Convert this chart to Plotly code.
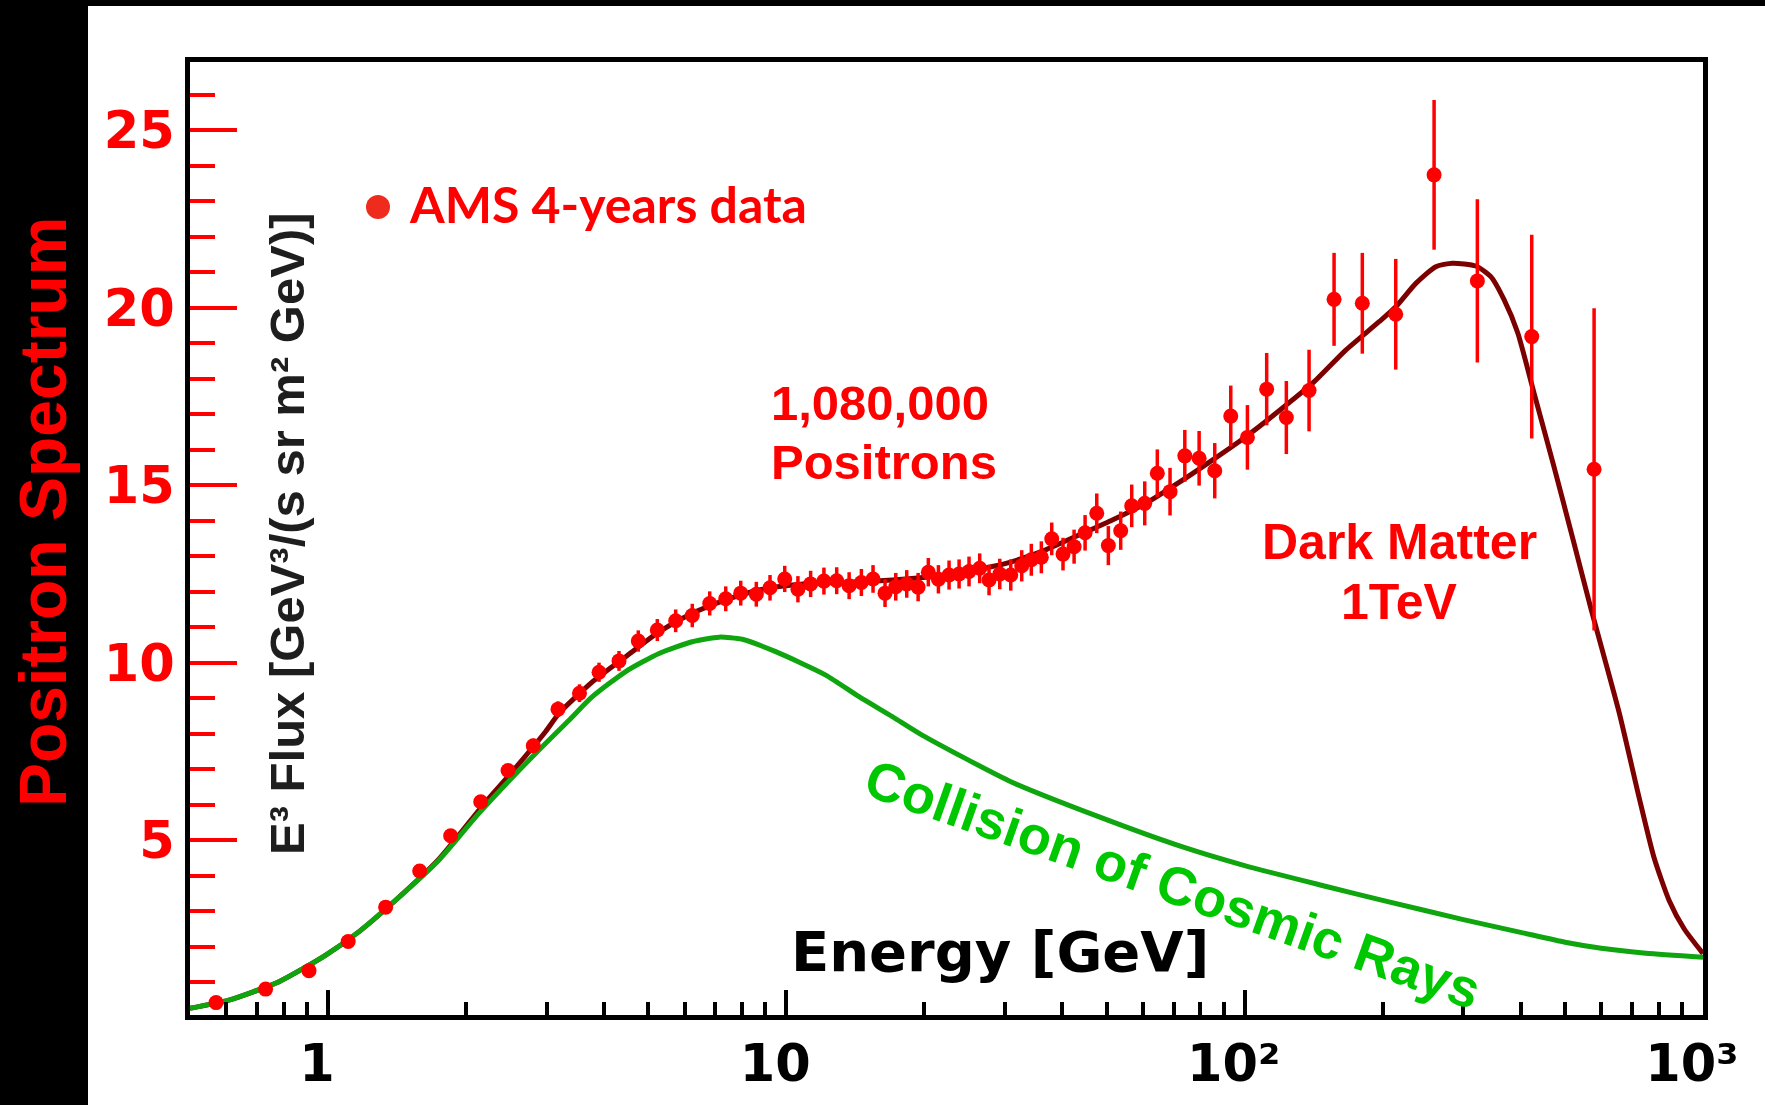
import plotly.graph_objects as go

# ---------------------------------------------------------------------------
# AMS positron flux, E^3-weighted  [GeV^3 / (s sr m^2 GeV)]
# ---------------------------------------------------------------------------
energy = [0.570, 0.731, 0.909, 1.107, 1.336, 1.585, 1.852, 2.154, 2.471, 2.805,
          3.176, 3.538, 3.903, 4.315, 4.754, 5.231, 5.736, 6.235, 6.806, 7.376,
          7.953, 8.601, 9.214, 9.920, 10.60, 11.30, 12.08, 12.88, 13.71, 14.58,
          15.46, 16.42, 17.33, 18.31, 19.39, 20.41, 21.47, 22.65, 23.82, 25.04,
          26.42, 27.69, 29.22, 30.88, 32.63, 34.24, 36.01, 37.94, 40.15, 42.45,
          44.86, 47.57, 50.42, 53.65, 56.70, 60.53, 64.48, 68.74, 74.03, 79.55,
          86.04, 93.26, 101.4, 111.7, 123.3, 138.2, 156.7, 180.6, 213.6, 259.0,
          321.9, 423.0, 578.6]
flux = [0.42, 0.80, 1.32, 2.14, 3.11, 4.13, 5.12, 6.08, 6.96, 7.66,
        8.69, 9.14, 9.73, 10.05, 10.61, 10.92, 11.18, 11.33, 11.67, 11.80,
        11.96, 11.93, 12.11, 12.36, 12.07, 12.22, 12.30, 12.31, 12.17, 12.26,
        12.36, 11.96, 12.14, 12.22, 12.13, 12.55, 12.35, 12.47, 12.50, 12.57,
        12.66, 12.33, 12.50, 12.47, 12.73, 12.90, 12.97, 13.49, 13.06, 13.27,
        13.66, 14.21, 13.30, 13.72, 14.42, 14.49, 15.34, 14.82, 15.83, 15.76,
        15.41, 16.95, 16.35, 17.71, 16.91, 17.67, 20.24, 20.13, 19.82, 23.75,
        20.76, 19.19, 15.45]
flux_err = [0.08, 0.08, 0.09, 0.10, 0.11, 0.12, 0.14, 0.16, 0.18, 0.20,
            0.22, 0.25, 0.27, 0.28, 0.30, 0.31, 0.32, 0.33, 0.34, 0.35,
            0.35, 0.35, 0.36, 0.37, 0.37, 0.37, 0.38, 0.38, 0.38, 0.38,
            0.39, 0.39, 0.39, 0.39, 0.40, 0.40, 0.40, 0.41, 0.41, 0.42,
            0.42, 0.43, 0.43, 0.44, 0.44, 0.45, 0.45, 0.46, 0.46, 0.48,
            0.50, 0.56, 0.55, 0.54, 0.60, 0.62, 0.67, 0.67, 0.73, 0.77,
            0.78, 0.86, 0.91, 1.02, 1.03, 1.15, 1.31, 1.42, 1.56, 2.11,
            2.30, 2.87, 4.54]

# Model: cosmic-ray secondaries + 1 TeV dark matter contribution
model_energy = [0.50, 0.608, 0.782, 0.989, 1.169, 1.381, 1.747, 2.209, 2.524, 2.985,
                3.192, 3.774, 4.462, 5.276, 6.235, 7.376, 8.717, 10.31, 12.19, 14.41,
                17.03, 20.15, 23.82, 28.15, 31.12, 36.81, 43.52, 51.44, 60.84, 71.92,
                85.02, 100.6, 118.9, 140.5, 166.2, 196.5, 213.7, 236.3, 261.2, 284.0,
                319.4, 344.4, 368.1, 394.2, 428.1, 473.1, 520.8, 568.0, 656.1, 725.4,
                782.1, 843.5, 909.5, 1000.0]
model_flux = [0.26, 0.49, 1.01, 1.76, 2.42, 3.22, 4.47, 6.08, 6.93, 8.06,
              8.57, 9.46, 10.17, 10.87, 11.39, 11.77, 12.05, 12.19, 12.25, 12.28,
              12.33, 12.41, 12.52, 12.71, 12.85, 13.18, 13.60, 14.02, 14.49, 15.08,
              15.71, 16.37, 17.10, 17.87, 18.81, 19.61, 20.03, 20.69, 21.16, 21.26,
              21.18, 20.88, 20.23, 19.30, 17.59, 15.52, 13.46, 11.58, 8.60, 6.20,
              4.50, 3.30, 2.50, 1.80]

# Secondary positrons from collisions of cosmic rays with the interstellar gas
collision_energy = [0.50, 0.608, 0.782, 0.989, 1.169, 1.381, 1.747, 2.136, 2.840, 3.357,
                    3.774, 4.462, 5.276, 6.235, 7.133, 8.017, 9.482, 12.19, 14.41, 17.03,
                    19.78, 31.08, 47.52, 72.65, 100.0, 150.0, 200.0, 300.0, 400.0, 500.0,
                    600.0, 750.0, 1000.0]
collision_flux = [0.26, 0.49, 1.01, 1.76, 2.42, 3.22, 4.44, 5.76, 7.45, 8.38,
                  9.04, 9.75, 10.26, 10.59, 10.72, 10.66, 10.31, 9.65, 9.04, 8.48,
                  7.96, 6.63, 5.68, 4.82, 4.28, 3.70, 3.30, 2.76, 2.40, 2.12,
                  1.95, 1.81, 1.70]

# Axis ticks
x_tick_values = [1, 10, 100, 1000]
x_tick_text = ["1", "10", "10²", "10³"]
x_minor_values = [0.6, 0.7, 0.8, 0.9,
                  2, 3, 4, 5, 6, 7, 8, 9,
                  20, 30, 40, 50, 60, 70, 80, 90,
                  200, 300, 400, 500, 600, 700, 800, 900]
y_tick_values = [5, 10, 15, 20, 25]
y_minor_values = [v for v in range(1, 27) if v % 5 != 0]

# ---------------------------------------------------------------------------
# Page geometry (pixels)
# ---------------------------------------------------------------------------
W, H = 1765, 1105
PLOT_L, PLOT_R, PLOT_T, PLOT_B = 190, 1703, 62, 1015
Y_RANGE = [0.07, 26.93]


def px(x):
    """Horizontal pixel position -> paper fraction."""
    return (x - PLOT_L) / (PLOT_R - PLOT_L)


def py(y):
    """Vertical pixel position (from top) -> paper fraction."""
    return (PLOT_B - y) / (PLOT_B - PLOT_T)


RED = "#ff0000"
DARK_RED = "#7d0000"
GREEN_LINE = "#0ea50e"
GREEN_TEXT = "#00c800"
NARROW = "Liberation Sans Narrow, Arial Narrow, Liberation Sans, Arial, sans-serif"
HELV = "Liberation Sans, Arial, sans-serif"
WIDE = "DejaVu Sans, sans-serif"

fig = go.Figure()

fig.add_trace(go.Scatter(
    x=model_energy, y=model_flux, mode="lines",
    line=dict(color=DARK_RED, width=5, shape="spline", smoothing=0.6),
    hoverinfo="skip", showlegend=False))

fig.add_trace(go.Scatter(
    x=collision_energy, y=collision_flux, mode="lines",
    line=dict(color=GREEN_LINE, width=5, shape="spline", smoothing=0.6),
    hoverinfo="skip", showlegend=False))

fig.add_trace(go.Scatter(
    x=energy, y=flux, mode="markers",
    marker=dict(color=RED, size=15, line=dict(width=0)),
    error_y=dict(type="data", array=flux_err, visible=True,
                 color=RED, thickness=3.5, width=0),
    showlegend=False, name="AMS 4-years data"))

fig.update_xaxes(
    type="log", range=[-0.30103, 3],
    showgrid=False, zeroline=False,
    showline=True, linecolor="black", linewidth=5, mirror=True,
    tickmode="array", tickvals=x_tick_values, ticktext=x_tick_text,
    ticks="inside", ticklen=25, tickwidth=3.5, tickcolor="black",
    tickfont=dict(family=WIDE, size=51, color="black", weight="bold"),
    ticklabelshift=-11,
    minor=dict(tickmode="array", tickvals=x_minor_values, ticks="inside",
               ticklen=13, tickwidth=3.5, tickcolor="black", showgrid=False),
)

fig.update_yaxes(
    range=Y_RANGE,
    showgrid=False, zeroline=False,
    showline=True, linecolor="black", linewidth=5, mirror=True,
    tickmode="array", tickvals=y_tick_values,
    ticks="inside", ticklen=47, tickwidth=3.5, tickcolor=RED,
    tickfont=dict(family=WIDE, size=51, color=RED, weight="bold"),
    minor=dict(tickmode="array", tickvals=y_minor_values, ticks="inside",
               ticklen=25, tickwidth=3.5, tickcolor=RED, showgrid=False),
)

shapes = [
    # black band on the left holding the vertical title
    dict(type="rect", xref="paper", yref="paper",
         x0=px(0), x1=px(88), y0=py(H), y1=py(0),
         fillcolor="black", line=dict(width=0), layer="below"),
    # thin black band along the top
    dict(type="rect", xref="paper", yref="paper",
         x0=px(0), x1=px(W), y0=py(6), y1=py(0),
         fillcolor="black", line=dict(width=0), layer="below"),
    # legend bullet
    dict(type="circle", xref="paper", yref="paper",
         x0=px(366), x1=px(390), y0=py(219), y1=py(195),
         fillcolor="#ee2b1d", line=dict(width=0)),
]

annotations = [
    dict(text="Positron Spectrum", x=px(43), y=py(512), textangle=-90,
         font=dict(family=NARROW, size=66, color=RED, weight="bold")),
    dict(text="E³ Flux [GeV³/(s sr m² GeV)]",
         x=px(287), y=py(534), textangle=-90,
         font=dict(family=NARROW, size=49, color="#1e1e1e", weight="bold")),
    dict(text="AMS 4-years data", x=px(407), y=py(204), xanchor="left",
         font=dict(family="Lato, Liberation Sans, sans-serif", size=50,
                   color=RED, weight="bold")),
    dict(text="1,080,000", x=px(769), y=py(403), xanchor="left",
         font=dict(family=HELV, size=49, color=RED, weight="bold")),
    dict(text="Positrons", x=px(769), y=py(462), xanchor="left",
         font=dict(family=HELV, size=49, color=RED, weight="bold")),
    dict(text="Dark Matter", x=px(1399), y=py(542),
         font=dict(family=HELV, size=50, color=RED, weight="bold")),
    dict(text="1TeV", x=px(1399), y=py(602),
         font=dict(family=HELV, size=50, color=RED, weight="bold")),
    dict(text="Energy [GeV]", x=px(1000), y=py(951),
         font=dict(family=WIDE, size=56, color="black", weight="bold")),
    dict(text="Collision of Cosmic Rays", x=px(1173), y=py(884), textangle=19.5,
         font=dict(family=HELV, size=54, color=GREEN_TEXT, weight="bold")),
]
for a in annotations:
    a.setdefault("xref", "paper")
    a.setdefault("yref", "paper")
    a.setdefault("xanchor", "center")
    a.setdefault("yanchor", "middle")
    a["showarrow"] = False

fig.update_layout(
    width=W, height=H,
    margin=dict(l=PLOT_L, r=W - PLOT_R, t=PLOT_T, b=H - PLOT_B, pad=0),
    paper_bgcolor="white", plot_bgcolor="white",
    shapes=shapes, annotations=annotations,
    showlegend=False,
)

fig.write_html("out.html", config={"displayModeBar": False})
